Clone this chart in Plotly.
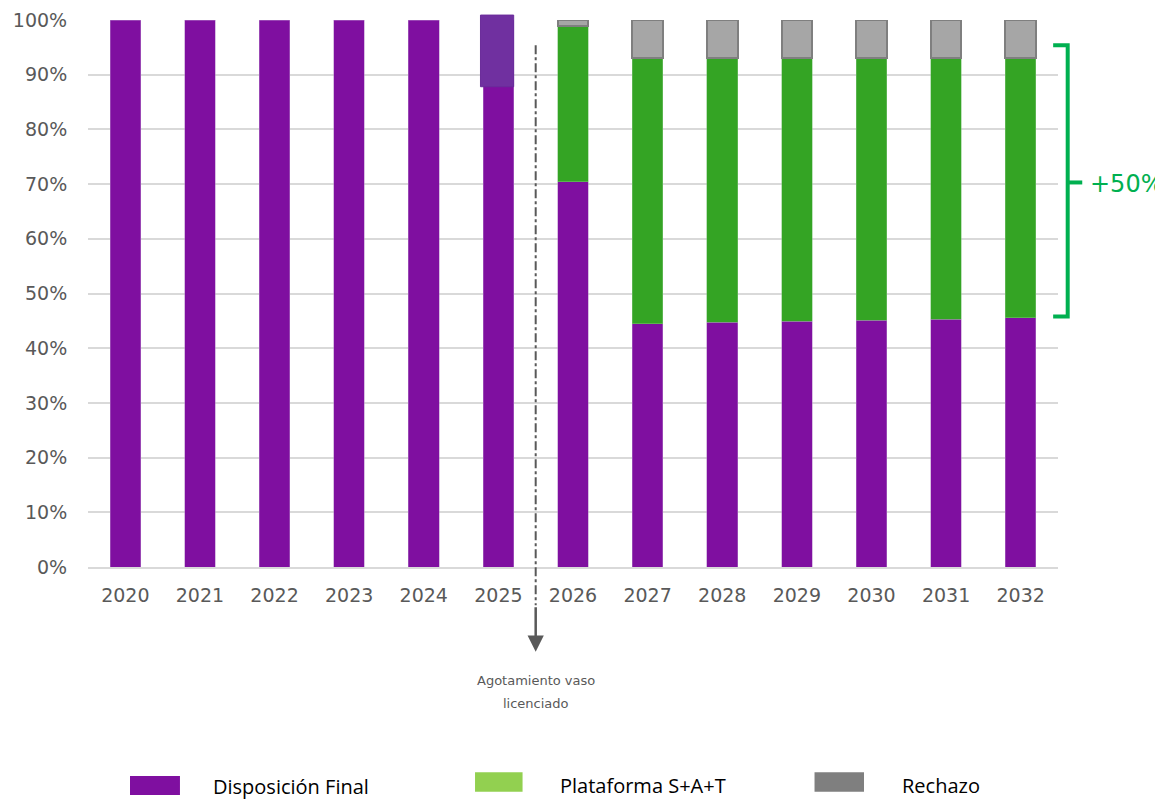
import plotly.graph_objects as go

years = ["2020", "2021", "2022", "2023", "2024", "2025", "2026",
         "2027", "2028", "2029", "2030", "2031", "2032"]
disposicion = [1.0, 1.0, 1.0, 1.0, 1.0, 1.0, 0.704,
               0.445, 0.447, 0.449, 0.451, 0.453, 0.456]
plataforma = [None, None, None, None, None, None, 0.285,
              0.485, 0.483, 0.481, 0.479, 0.477, 0.474]
rechazo = [None, None, None, None, None, None, 0.011,
           0.070, 0.070, 0.070, 0.070, 0.070, 0.070]

legend_names = ["Disposición Final", "Plataforma S+A+T", "Rechazo"]
bracket_label = "+50%"
event_lines = ["Agotamiento vaso", "licenciado"]

PURPLE = "#7F0FA0"
GREEN = "#34A424"
GRAY = "#A6A6A6"
TXT = "#595959"
BR_GREEN = "#00B050"

fig = go.Figure()
fig.add_bar(x=years, y=disposicion, name=legend_names[0], marker_color=PURPLE,
            marker_line=dict(color="#B47FC8", width=0.5), width=0.41, showlegend=False)
fig.add_bar(x=years, y=plataforma, name=legend_names[1], marker_color=GREEN,
            marker_line=dict(color="#7FC47A", width=0.5), width=0.41, showlegend=False)
fig.add_bar(x=years, y=rechazo, name=legend_names[2], marker_color=GRAY,
            marker_line=dict(color="#7F7F7F", width=2), width=0.41, showlegend=False)

shapes = []
# highlight box on 2025 bar
shapes.append(dict(type="rect", xref="x", yref="paper", x0=4.76, x1=5.205, y0=0.878, y1=1.009,
                   fillcolor="#7030A0", line=dict(color="#6A2C9A", width=1), layer="above"))
# dash-dot vertical line
shapes.append(dict(type="line", xref="x", yref="paper", x0=5.5, x1=5.5, y0=0.954, y1=-0.07,
                   line=dict(color=TXT, width=2, dash="dashdot")))
# bracket
shapes.append(dict(type="path", xref="paper", yref="paper",
                   path="M 0.995,0.954 L 1.010,0.954 L 1.010,0.458 L 0.995,0.458",
                   line=dict(color=BR_GREEN, width=4)))
shapes.append(dict(type="line", xref="paper", yref="paper", x0=1.010, x1=1.025, y0=0.703, y1=0.703,
                   line=dict(color=BR_GREEN, width=4)))
# legend boxes
leg_colors = [PURPLE, "#92D050", "#7F7F7F"]
leg_x = [(0.0433, 0.0948, -0.417, -0.382), (0.399, 0.448, -0.411, -0.375), (0.749, 0.800, -0.411, -0.375)]
for c, (x0, x1, y0, y1) in zip(leg_colors, leg_x):
    shapes.append(dict(type="rect", xref="paper", yref="paper", x0=x0, x1=x1, y0=y0, y1=y1,
                       fillcolor=c, line=dict(width=0)))

annotations = []
annotations.append(dict(x=5.5, y=-0.155, xref="x", yref="paper", ax=0, ay=-46, text="",
                        showarrow=True, arrowhead=2, arrowsize=1.3, arrowwidth=2.5, arrowcolor=TXT))
for txt, ty in zip(event_lines, [-0.224, -0.266]):
    annotations.append(dict(x=5.5, y=ty, xref="x", yref="paper", text=txt, showarrow=False,
                            font=dict(family="DejaVu Sans", size=13, color=TXT), align="center"))
annotations.append(dict(x=1.031, y=0.700, xref="paper", yref="paper", text=bracket_label, showarrow=False,
                        xanchor="left", yanchor="middle",
                        font=dict(family="DejaVu Sans", size=24, color=BR_GREEN)))
leg_tx = [(0.1268, -0.402), (0.4845, -0.399), (0.837, -0.399)]
for name, (tx, ty) in zip(legend_names, leg_tx):
    annotations.append(dict(x=tx, y=ty, xref="paper", yref="paper", text=name, showarrow=False,
                            xanchor="left", yanchor="middle",
                            font=dict(family="Liberation Sans Narrow, Open Sans, sans-serif", size=20, color="#000000")))

fig.update_layout(
    barmode="stack",
    width=1155, height=791,
    margin=dict(l=80, r=105, t=12, b=232),
    paper_bgcolor="white", plot_bgcolor="white",
    shapes=shapes, annotations=annotations,
    showlegend=False,
    font=dict(family="DejaVu Sans", color=TXT),
)
fig.update_xaxes(type="category", range=[-0.5, 12.5], showgrid=False, automargin=False,
                 ticks="outside", ticklen=10, tickcolor="white",
                 tickfont=dict(family="DejaVu Sans", size=19, color=TXT),
                 showline=True, linecolor="#D9D9D9", linewidth=2)
fig.update_yaxes(range=[0, 1], dtick=0.1, tickformat=".0%", showgrid=True, automargin=False,
                 gridcolor="#D9D9D9", gridwidth=2, zeroline=False,
                 ticks="outside", ticklen=16, tickcolor="white",
                 tickfont=dict(family="DejaVu Sans", size=19, color=TXT))

fig.write_html("out.html")
